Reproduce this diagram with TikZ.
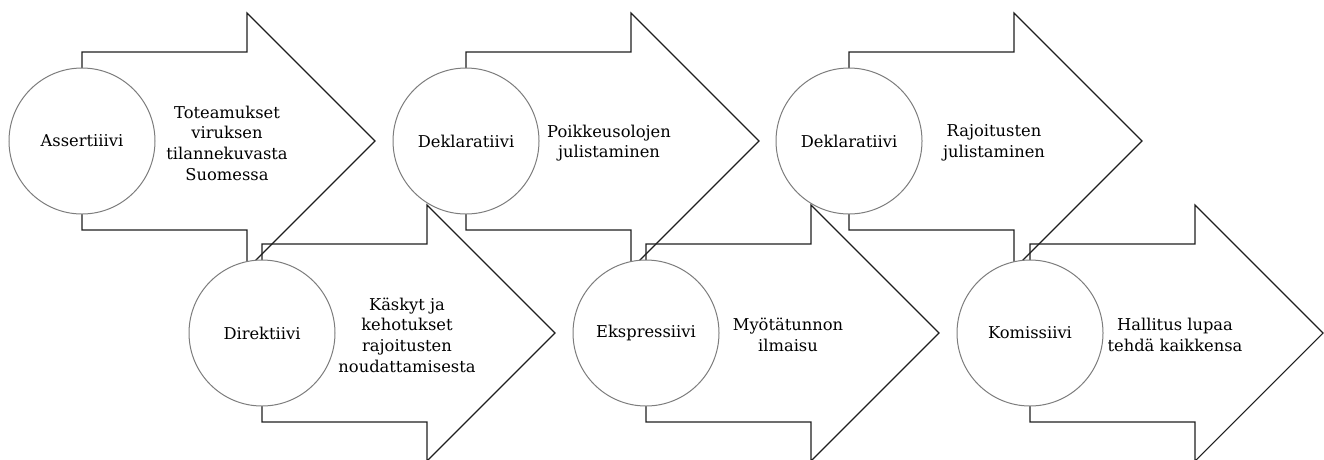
\documentclass[tikz,border=0pt]{standalone}
\usepackage{fontspec}
\setmainfont{DejaVu Serif}
\definecolor{circlegray}{RGB}{125,125,125}
\definecolor{arrowink}{RGB}{30,30,30}
\tikzset{
  arrowline/.style={draw=arrowink, line width=1.1pt, line join=miter},
  act/.style={circle, draw=circlegray, fill=white, line width=1pt, minimum size=146pt, inner sep=0pt, font=\fontsize{16.3}{20.7}\selectfont},
  desc/.style={align=center, font=\fontsize{16.3}{20.7}\selectfont, inner sep=0pt},
  barrow/.pic={\draw[arrowline] (0,-89) -- (165,-89) -- (165,-128) -- (293,0) -- (165,128) -- (165,89) -- (0,89) -- cycle;}
}
\begin{document}
\begin{tikzpicture}[x=1pt,y=-1pt]
\useasboundingbox (0,0) rectangle (1324,459);
\clip (0,0) rectangle (1324,459);
% arrow bodies
\pic at (82,141) {barrow};
\pic at (262,333) {barrow};
\pic at (466,141) {barrow};
\pic at (646,333) {barrow};
\pic at (849,141) {barrow};
\pic at (1030,333) {barrow};
% circles
\node[act] (c1) at (82,141) {Assertiiivi};
\node[act] (c2) at (262,333) {Direktiivi};
\node[act] (c3) at (466,141) {Deklaratiivi};
\node[act] (c4) at (646,333) {Ekspressiivi};
\node[act] (c5) at (849,141) {Deklaratiivi};
\node[act] (c6) at (1030,333) {Komissiivi};
% descriptions
\node[desc] (t1) at (227,143) {Toteamukset\\viruksen\\tilannekuvasta\\Suomessa};
\node[desc] (t2) at (407,335) {Käskyt ja\\kehotukset\\rajoitusten\\noudattamisesta};
\node[desc] (t3) at (609,143) {Poikkeusolojen\\julistaminen};
\node[desc] (t4) at (788,335) {Myötätunnon\\ilmaisu};
\node[desc] (t5) at (994,143) {Rajoitusten\\julistaminen};
\node[desc] (t6) at (1175,335) {Hallitus lupaa\\tehdä kaikkensa};
\end{tikzpicture}
\end{document}
